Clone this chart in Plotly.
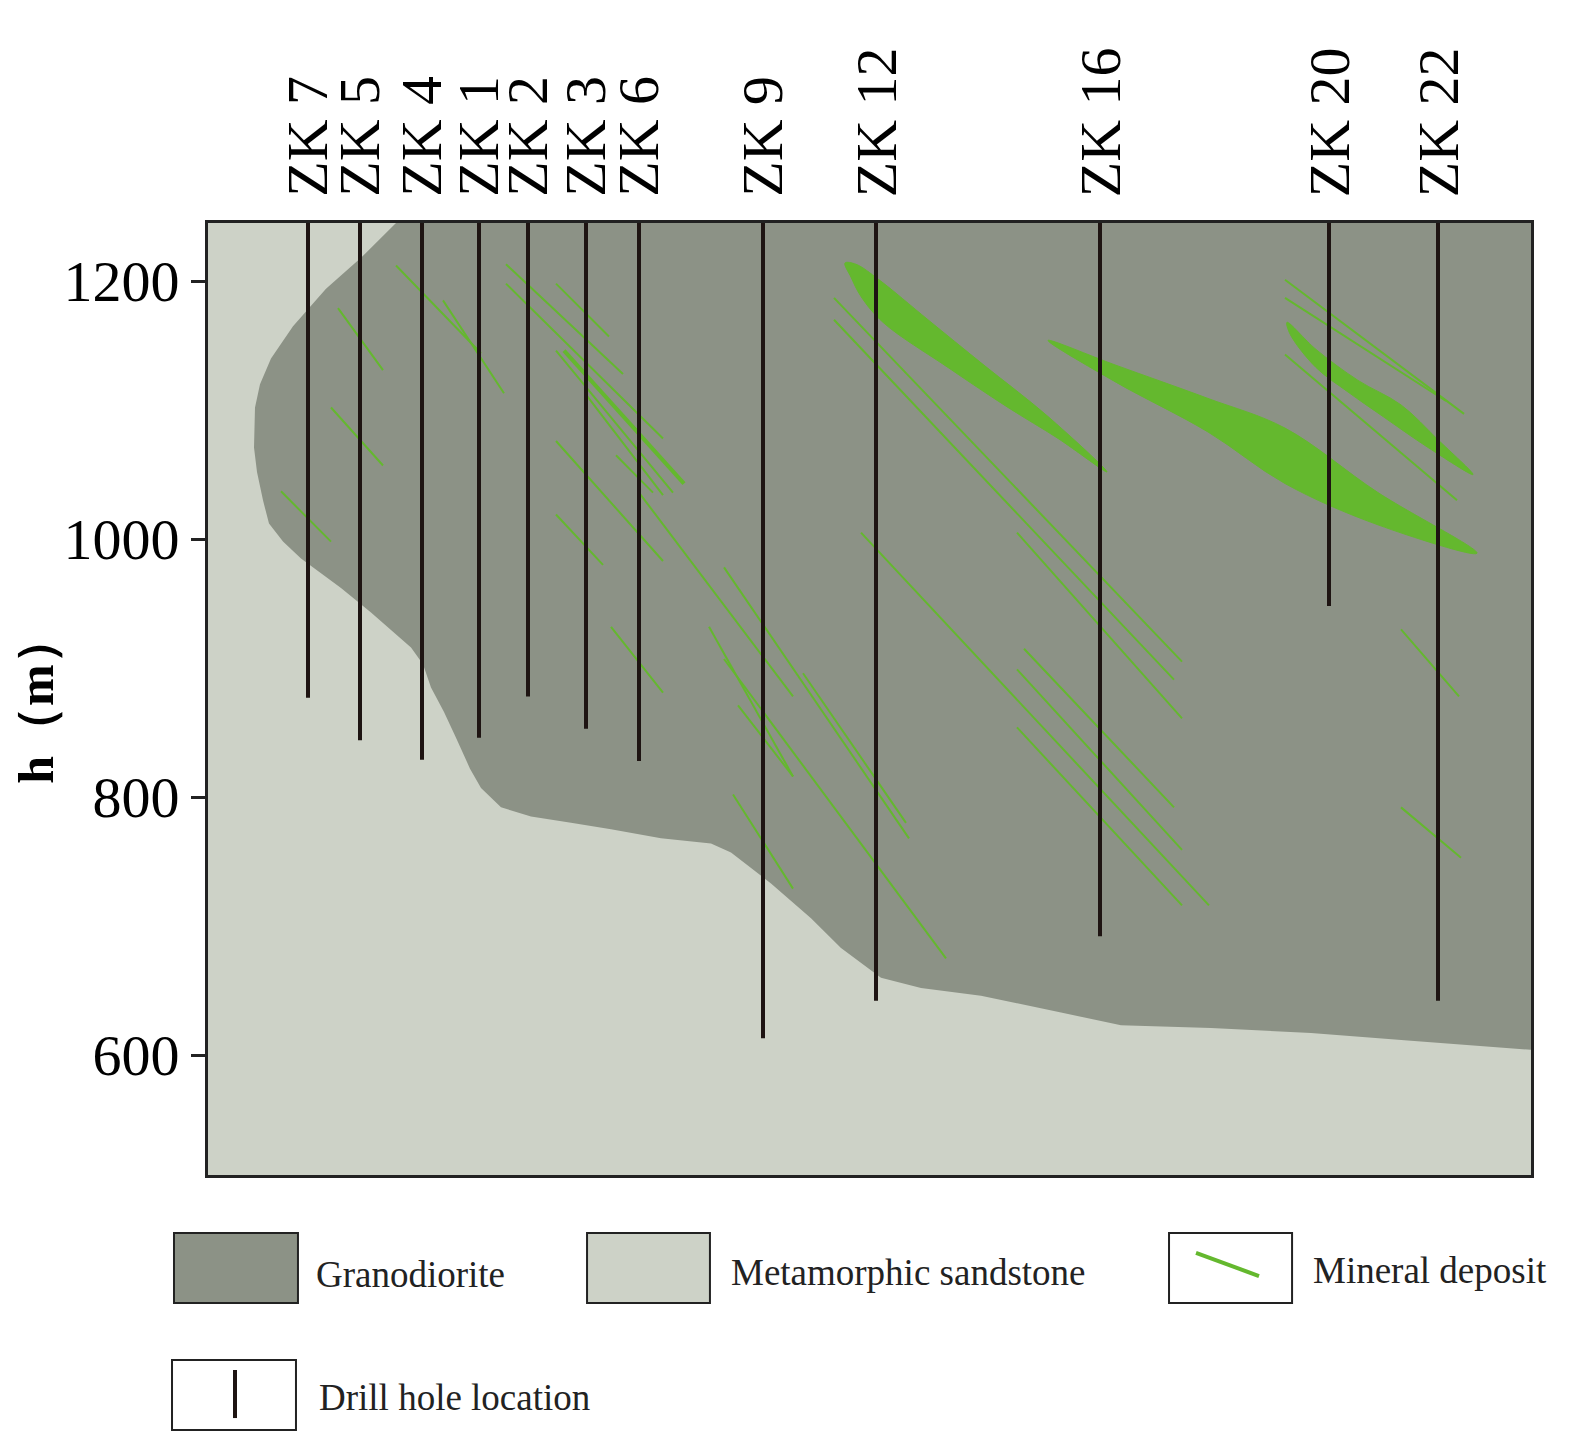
import plotly.graph_objects as go

# drill holes: horizontal position (m along section) and bottom elevation (m)
hole_names = ["ZK 7", "ZK 5", "ZK 4", "ZK 1", "ZK 2", "ZK 3", "ZK 6", "ZK 9", "ZK 12", "ZK 16", "ZK 20", "ZK 22"]
hole_x = [100, 152, 214, 271, 320, 378, 431, 555, 668, 892, 1121, 1230]
hole_bottom = [877, 844, 829, 846, 878, 853, 828, 613, 642, 692, 948, 642]
hole_top = 1245

# granodiorite contact (upper-left boundary then along base)
grano_x = [188, 153, 118, 85, 63, 52, 47, 46, 49, 55, 61, 75, 93, 133, 163, 203, 215, 223, 236, 248,
           262, 273, 293, 323, 363, 403, 453, 503, 523, 563, 603, 633, 673, 713, 773, 853, 913,
           1003, 1103, 1203, 1323, 1323]
grano_h = [1245, 1218, 1194, 1165, 1140, 1120, 1102, 1071, 1052, 1030, 1012, 998, 985, 962, 943, 916,
           903, 885, 866, 846, 822, 807, 792, 785, 780, 775, 768, 764, 757, 733, 706, 683, 660, 652,
           646, 633, 623, 621, 617, 611, 604, 1245]

# thin ore veins: start x, start h, end x, end h
vein_x0 = [73, 123, 130, 188, 235, 298, 298, 348, 348, 378, 408, 348, 348, 403, 431, 516, 501, 516,
           525, 530, 595, 626, 626, 809, 653, 816, 809, 809, 1077, 1077, 1077, 1193, 1193]
vein_h0 = [1037, 1102, 1179, 1212, 1185, 1213, 1198, 1198, 1146, 1112, 1065, 1076, 1019, 932, 1036,
           978, 932, 907, 802, 871, 896, 1187, 1170, 1005, 1005, 915, 899, 854, 1201, 1187, 1143, 930, 792]
vein_x1 = [123, 175, 175, 273, 296, 415, 455, 401, 465, 455, 445, 455, 395, 455, 585, 701, 585, 738,
           585, 585, 698, 974, 966, 974, 1001, 966, 974, 974, 1256, 1238, 1249, 1251, 1253]
vein_h1 = [998, 1057, 1131, 1144, 1113, 1128, 1078, 1157, 1036, 1034, 1036, 983, 980, 881, 878,
           768, 816, 675, 729, 816, 780, 905, 891, 861, 716, 792, 759, 716, 1097, 1107, 1030, 878, 753]

thick_x = [356, 476]
thick_h = [1146, 1043]

# ore lenses
lens1_x = [637, 648, 671, 720, 774, 840, 899, 850, 800, 740, 675, 653, 643]
lens1_h = [1214, 1213, 1201, 1170, 1136, 1095, 1052, 1078, 1102, 1133, 1168, 1188, 1203]
lens2_x = [840, 907, 1000, 1077, 1170, 1269, 1170, 1077, 1000, 907]
lens2_h = [1154, 1135, 1109, 1086, 1036, 989, 1011, 1043, 1083, 1122]
lens3_x = [1079, 1108, 1150, 1193, 1230, 1265, 1220, 1175, 1140, 1108, 1082]
lens3_h = [1168, 1147, 1123, 1104, 1077, 1050, 1071, 1095, 1114, 1133, 1159]

GRANO = "#8c9286"
SAND = "#cdd2c7"
GREEN = "#64b82e"
HOLE = "#1e1412"
SERIF = "Liberation Serif"

fig = go.Figure()

fig.add_trace(go.Scatter(x=grano_x, y=grano_h, fill="toself", fillcolor=GRANO,
                         mode="none", hoverinfo="skip"))

vx, vy = [], []
for a, b, c, d in zip(vein_x0, vein_h0, vein_x1, vein_h1):
    vx += [a, c, None]
    vy += [b, d, None]
fig.add_trace(go.Scatter(x=vx, y=vy, mode="lines", line=dict(color=GREEN, width=2)))
fig.add_trace(go.Scatter(x=thick_x, y=thick_h, mode="lines", line=dict(color=GREEN, width=4)))

for lx, lh in [(lens1_x, lens1_h), (lens2_x, lens2_h), (lens3_x, lens3_h)]:
    fig.add_trace(go.Scatter(x=lx + [lx[0]], y=lh + [lh[0]], fill="toself", fillcolor=GREEN,
                             mode="lines", line=dict(color=GREEN, width=1, shape="spline")))

hx, hy = [], []
for x, b in zip(hole_x, hole_bottom):
    hx += [x, x, None]
    hy += [hole_top, b, None]
fig.add_trace(go.Scatter(x=hx, y=hy, mode="lines", line=dict(color=HOLE, width=4)))

for name, x in zip(hole_names, hole_x):
    fig.add_annotation(x=x, xref="x", y=1.025, yref="paper", text=name, textangle=-90,
                       showarrow=False, xanchor="center", yanchor="bottom",
                       font=dict(family=SERIF, size=58, color="black"))

# legend drawn by hand below the section
boxes = [(-0.0257, 0.068, -0.1345, -0.0609, GRANO), (0.2865, 0.3794, -0.1345, -0.0609, SAND),
         (0.7264, 0.8194, -0.1345, -0.0609, "white"), (-0.0272, 0.0665, -0.2679, -0.1943, "white")]
for x0, x1, y0, y1, col in boxes:
    fig.add_shape(type="rect", xref="paper", yref="paper", x0=x0, x1=x1, y0=y0, y1=y1,
                  fillcolor=col, line=dict(color="#222", width=2))
fig.add_shape(type="line", xref="paper", yref="paper", x0=0.7468, x1=0.7944, y0=-0.0819, y1=-0.1061,
              line=dict(color=GREEN, width=4))
fig.add_shape(type="line", xref="paper", yref="paper", x0=0.0204, x1=0.0204, y0=-0.2048, y1=-0.2553,
              line=dict(color=HOLE, width=4))
for text, x, y in [("Granodiorite", 0.0801, -0.105), ("Metamorphic sandstone", 0.3938, -0.1029),
                   ("Mineral deposit", 0.8337, -0.0998), ("Drill hole location", 0.0824, -0.2342)]:
    fig.add_annotation(x=x, y=y, xref="paper", yref="paper", text=text, showarrow=False,
                       xanchor="left", yanchor="middle",
                       font=dict(family=SERIF, size=37, color="#222"))

fig.update_layout(
    width=1583, height=1449,
    margin=dict(l=195, r=60, t=215, b=282),
    paper_bgcolor="white", plot_bgcolor=SAND,
    showlegend=False,
    xaxis=dict(range=[0, 1323], showgrid=False, zeroline=False, showticklabels=False,
               showline=True, mirror=True, linecolor="#222", linewidth=3),
    yaxis=dict(range=[507, 1245], showgrid=False, zeroline=False, tickvals=[600, 800, 1000, 1200],
               ticks="outside", ticklen=14, tickwidth=3, tickcolor="#222",
               tickfont=dict(family=SERIF, size=58, color="black"),
               showline=True, mirror=True, linecolor="#222", linewidth=3,
               title=dict(text="<b>h（m）</b>", font=dict(family=SERIF, size=50, color="black"),
                          standoff=8)),
)

fig.write_html("out.html")
